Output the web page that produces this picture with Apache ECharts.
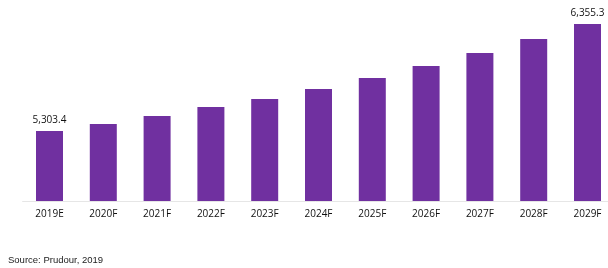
<!DOCTYPE html>
<html>
<head>
<meta charset="utf-8">
<script src="https://cdn.jsdelivr.net/npm/echarts@6/dist/echarts.min.js"></script>
<style>
  html, body { margin: 0; padding: 0; background: #fff; }
  #main { width: 608px; height: 268px; }
</style>
</head>
<body>
<div id="main"></div>
<script>
var years = ['2019E', '2020F', '2021F', '2022F', '2023F', '2024F', '2025F', '2026F', '2027F', '2028F', '2029F'];
var values = [5303.4, 5372, 5451, 5539, 5618, 5716, 5824, 5942, 6070, 6208, 6355.3];
var labelled = [0, 10]; // only first and last bars carry a value

var chart = echarts.init(document.getElementById('main'));

function fmt(v) {
  return v.toLocaleString('en-US', { minimumFractionDigits: 1, maximumFractionDigits: 1 });
}

var option = {
  backgroundColor: '#ffffff',
  animation: false,
  grid: {
    left: 22.6,
    top: 24,
    right: -6.4,
    bottom: 67,
    outerBoundsMode: 'none',
    containLabel: false
  },
  graphic: [{
    type: 'text',
    left: 8,
    top: 255,
    style: {
      text: 'Source: Prudour, 2019',
      fill: '#222',
      font: '9.5px "Liberation Sans", Arial, sans-serif'
    }
  }],
  xAxis: {
    type: 'category',
    data: years,
    axisTick: { show: false },
    axisLine: { lineStyle: { color: '#e6e6e6', width: 1 } },
    axisLabel: {
      color: '#111',
      fontSize: 10,
      fontFamily: 'Open Sans, sans-serif',
      margin: 8
    }
  },
  yAxis: {
    type: 'value',
    min: 4615,
    max: 6355.3,
    show: false,
    splitLine: { show: false }
  },
  series: [{
    type: 'bar',
    barWidth: 27,
    itemStyle: { color: '#7030a0' },
    label: {
      show: true,
      position: 'top',
      distance: 6,
      color: '#111',
      fontSize: 10,
      fontFamily: 'Open Sans, sans-serif',
      formatter: function (p) {
        return labelled.indexOf(p.dataIndex) >= 0 ? fmt(p.value) : '';
      }
    },
    data: values
  }]
};

chart.setOption(option);
</script>
</body>
</html>
